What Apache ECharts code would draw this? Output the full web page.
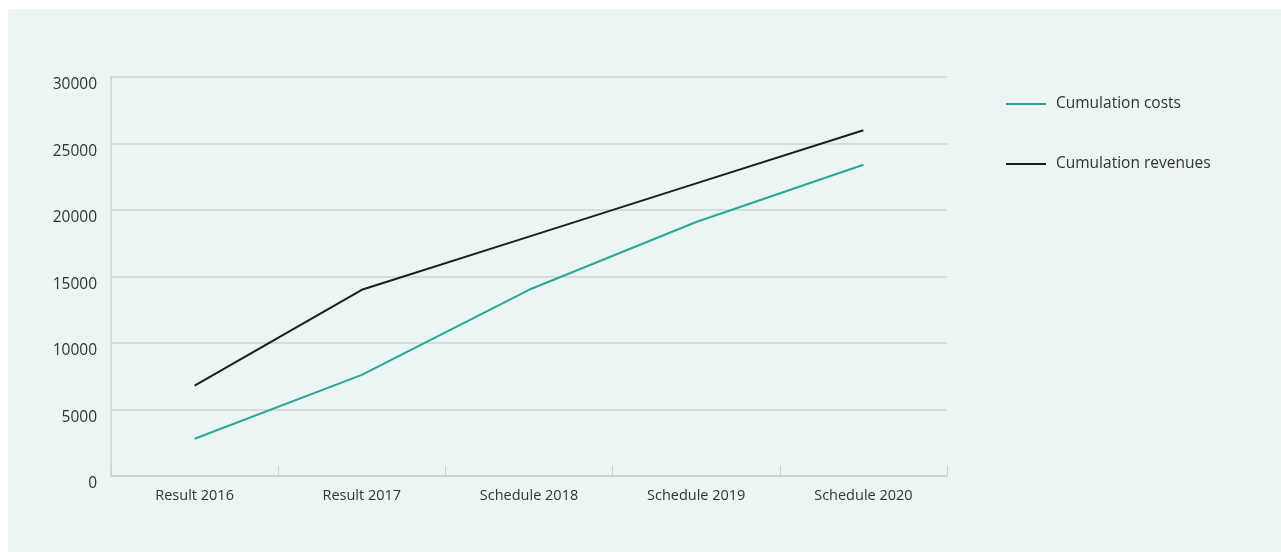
<!DOCTYPE html>
<html>
<head>
<meta charset="utf-8">
<script src="https://cdn.jsdelivr.net/npm/echarts@6/dist/echarts.min.js"></script>
<style>
html,body{margin:0;padding:0;background:#ffffff;}
#chart{width:1281px;height:552px;}
</style>
</head>
<body>
<div id="chart"></div>
<script>
const categories = ['Result 2016', 'Result 2017', 'Schedule 2018', 'Schedule 2019', 'Schedule 2020'];
const costs = [2800, 7600, 14000, 19100, 23400];
const revenues = [6800, 14000, 18000, 22000, 26000];
const seriesNames = ['Cumulation costs', 'Cumulation revenues'];

const chart = echarts.init(document.getElementById('chart'));
const font = '"Open Sans", Lato, sans-serif';
chart.setOption({
  animation: false,
  backgroundColor: 'transparent',
  graphic: [{
    type: 'rect', z: -10, silent: true,
    shape: {x: 8, y: 9, width: 1273, height: 543},
    style: {fill: '#ebf5f3'}
  }],
  grid: {left: 111, right: 334, top: 77, bottom: 76, containLabel: false},
  legend: {
    orient: 'vertical',
    left: 1001, top: 89,
    icon: 'rect',
    itemWidth: 40, itemHeight: 2, itemGap: 40,
    data: seriesNames,
    textStyle: {fontFamily: font, fontSize: 15.5, color: '#333333', lineHeight: 20, padding: [0, 0, 0, 5]}
  },
  xAxis: {
    type: 'category',
    data: categories,
    boundaryGap: true,
    axisLine: {show: true, lineStyle: {color: '#c9d0cf', width: 1.5}},
    axisTick: {show: true, inside: true, length: 10, lineStyle: {color: '#c9d0cf'}},
    axisLabel: {fontFamily: font, fontSize: 14.5, color: '#333333', margin: 12}
  },
  yAxis: {
    type: 'value',
    min: 0, max: 30000, interval: 5000,
    axisLine: {show: true, lineStyle: {color: '#c9d0cf', width: 1.5}},
    axisTick: {show: false},
    axisLabel: {
      fontFamily: font, fontSize: 15.5, color: '#333333', margin: 14,
      verticalAlign: 'top', lineHeight: 16,
      formatter: function (v) { return String(v); }
    },
    splitLine: {show: true, lineStyle: {color: '#cdd4d3', width: 1.5}}
  },
  series: [
    {
      name: seriesNames[0], type: 'line', data: costs,
      symbol: 'none', lineStyle: {color: '#2aa897', width: 2}, itemStyle: {color: '#2aa897'}
    },
    {
      name: seriesNames[1], type: 'line', data: revenues,
      symbol: 'none', lineStyle: {color: '#1c1c1c', width: 2}, itemStyle: {color: '#1c1c1c'}
    }
  ]
});
</script>
</body>
</html>
